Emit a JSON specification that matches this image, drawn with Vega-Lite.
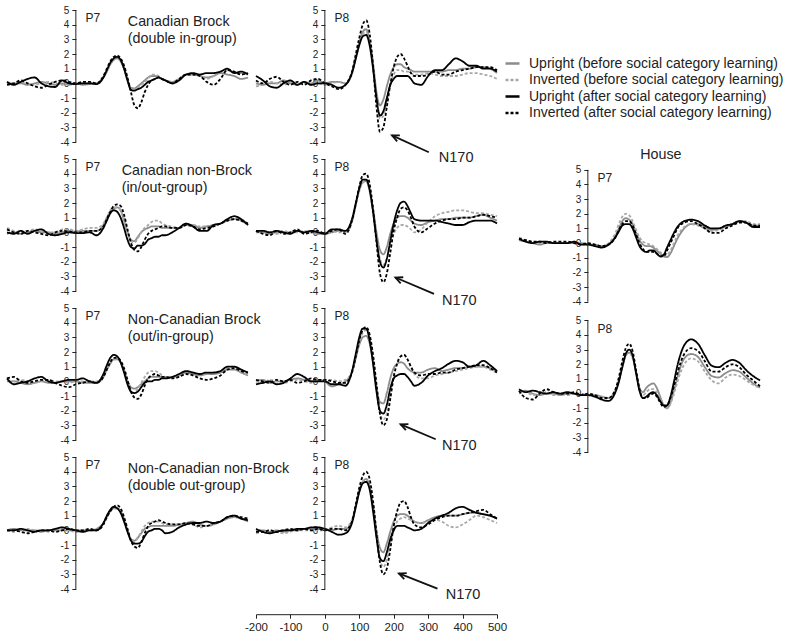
{
"$schema":"https://vega.github.io/schema/vega-lite/v6.json",
"background":"white",
"padding":{"left":3,"top":5,"right":5,"bottom":5},
"config":{
 "view":{"stroke":null},
 "font":"Liberation Sans",
 "axis":{"labelFont":"Liberation Sans","labelFontSize":10,"labelColor":"#222","domainColor":"#222","tickColor":"#222","tickSize":4,"labelPadding":3,"grid":false,"labelFlush":false,"labelOverlap":false},
 "legend":{"orient":"none","legendX":497,"legendY":45,"labelFont":"Liberation Sans","labelFontSize":14,"labelColor":"#222","symbolType":"stroke","symbolSize":196,"symbolStrokeWidth":2.5,"rowPadding":0.5,"labelOffset":8,"padding":0,"labelLimit":400},
 "text":{"font":"Liberation Sans","color":"#222"}
},
"datasets":{
"A7":[
{"t":-200,"a":0,"b":0.1,"c":0.1,"d":-0.1},{"t":-180,"a":0,"b":0,"c":-0.1,"d":0},{"t":-160,"a":0,"b":0.1,"c":0.1,"d":0.2},{"t":-140,"a":-0.1,"b":0,"c":0.3,"d":0},{"t":-120,"a":0,"b":-0.1,"c":0.4,"d":-0.2},{"t":-100,"a":0.1,"b":0,"c":0,"d":-0.3},{"t":-80,"a":0,"b":0.1,"c":-0.2,"d":-0.1},{"t":-60,"a":-0.1,"b":0,"c":-0.25,"d":0.1},{"t":-40,"a":0,"b":-0.1,"c":0.2,"d":0.2},{"t":-20,"a":-0.1,"b":0,"c":0,"d":0.1},{"t":0,"a":0,"b":0,"c":-0.05,"d":0},{"t":20,"a":-0.1,"b":0,"c":0,"d":0.1},{"t":40,"a":-0.05,"b":0,"c":0,"d":0.1},{"t":60,"a":0,"b":0,"c":-0.05,"d":0},{"t":80,"a":0.4,"b":0.4,"c":0.4,"d":0.5},{"t":90,"a":0.8,"b":0.8,"c":0.9,"d":1},{"t":100,"a":1.3,"b":1.3,"c":1.4,"d":1.5},{"t":110,"a":1.6,"b":1.6,"c":1.7,"d":1.8},{"t":120,"a":1.7,"b":1.7,"c":1.8,"d":1.9},{"t":130,"a":1.5,"b":1.5,"c":1.6,"d":1.7},{"t":140,"a":1,"b":1,"c":1,"d":1.2},{"t":150,"a":0.2,"b":0.2,"c":0.2,"d":0.4},{"t":160,"a":-0.3,"b":-0.35,"c":-0.45,"d":-0.6},{"t":170,"a":-0.35,"b":-0.4,"c":-0.5,"d":-1.5},{"t":180,"a":-0.2,"b":-0.3,"c":-0.4,"d":-1.7},{"t":190,"a":0,"b":-0.1,"c":-0.3,"d":-1.3},{"t":200,"a":0.2,"b":0.1,"c":-0.1,"d":-0.6},{"t":210,"a":0.4,"b":0.3,"c":0.1,"d":-0.1},{"t":220,"a":0.5,"b":0.6,"c":0.2,"d":0.2},{"t":230,"a":0.5,"b":0.6,"c":0.3,"d":0.3},{"t":240,"a":0.45,"b":0.5,"c":0.4,"d":0.4},{"t":250,"a":0.3,"b":0.3,"c":0.3,"d":0.3},{"t":260,"a":0.2,"b":0.2,"c":0.2,"d":0.2},{"t":280,"a":0.1,"b":0.1,"c":0,"d":0},{"t":300,"a":0.3,"b":0.3,"c":0.2,"d":0.3},{"t":320,"a":0.6,"b":0.6,"c":0.6,"d":0.6},{"t":340,"a":0.6,"b":0.6,"c":0.7,"d":0.6},{"t":360,"a":0.5,"b":0.5,"c":0.6,"d":0.5},{"t":380,"a":0.4,"b":0.3,"c":0.7,"d":0.1},{"t":400,"a":0.5,"b":0.5,"c":0.7,"d":-0.1},{"t":420,"a":0.7,"b":0.8,"c":0.8,"d":0.3},{"t":440,"a":0.6,"b":0.9,"c":1,"d":0.9},{"t":460,"a":0.5,"b":0.7,"c":0.7,"d":0.8},{"t":480,"a":0.3,"b":0.7,"c":0.8,"d":0.6},{"t":500,"a":0.4,"b":0.6,"c":0.6,"d":0.7}],
"A8":[
{"t":-200,"a":0,"b":-0.2,"c":0.5,"d":0.2},{"t":-180,"a":-0.1,"b":-0.1,"c":0.2,"d":0},{"t":-160,"a":0,"b":0.1,"c":-0.2,"d":0.3},{"t":-140,"a":0,"b":0,"c":-0.3,"d":0.45},{"t":-120,"a":0.2,"b":-0.1,"c":0,"d":0.1},{"t":-100,"a":0,"b":0.1,"c":0.2,"d":-0.1},{"t":-80,"a":-0.1,"b":0,"c":-0.1,"d":0.1},{"t":-60,"a":0.1,"b":0,"c":0.1,"d":-0.1},{"t":-40,"a":0,"b":-0.1,"c":-0.1,"d":0.2},{"t":-20,"a":0.2,"b":0,"c":0,"d":0.3},{"t":0,"a":0,"b":-0.1,"c":0,"d":0},{"t":20,"a":0.1,"b":0,"c":-0.1,"d":-0.2},{"t":40,"a":0.1,"b":0.1,"c":-0.3,"d":-0.4},{"t":60,"a":0,"b":0,"c":-0.1,"d":-0.1},{"t":80,"a":0.8,"b":0.7,"c":0.8,"d":0.9},{"t":90,"a":1.8,"b":1.7,"c":1.7,"d":2},{"t":100,"a":2.8,"b":2.8,"c":2.6,"d":3.1},{"t":110,"a":3.5,"b":3.4,"c":3.2,"d":4},{"t":120,"a":3.7,"b":3.5,"c":3.3,"d":4.3},{"t":130,"a":2.9,"b":2.8,"c":2.6,"d":3.4},{"t":140,"a":1.4,"b":1.2,"c":1,"d":1.2},{"t":150,"a":-0.6,"b":-1,"c":-1,"d":-1.6},{"t":160,"a":-1.5,"b":-2.4,"c":-2.2,"d":-3.3},{"t":170,"a":-1.1,"b":-2.2,"c":-1.9,"d":-3},{"t":180,"a":-0.2,"b":-1.2,"c":-1,"d":-1.6},{"t":190,"a":0.6,"b":-0.1,"c":-0.1,"d":-0.1},{"t":200,"a":1.1,"b":0.6,"c":0.3,"d":1.1},{"t":210,"a":1.3,"b":0.9,"c":0.5,"d":1.8},{"t":220,"a":1.3,"b":0.9,"c":0.5,"d":2},{"t":230,"a":1.1,"b":0.8,"c":0.5,"d":1.7},{"t":240,"a":1,"b":0.8,"c":0.5,"d":1.2},{"t":250,"a":0.9,"b":0.7,"c":0.3,"d":0.7},{"t":260,"a":0.8,"b":0.6,"c":0,"d":0.5},{"t":280,"a":0.8,"b":0.6,"c":-0.1,"d":0.5},{"t":300,"a":0.8,"b":0.7,"c":0.5,"d":0.6},{"t":320,"a":0.8,"b":0.6,"c":0.9,"d":0.8},{"t":340,"a":0.8,"b":0.5,"c":0.9,"d":0.6},{"t":360,"a":0.9,"b":0.5,"c":1.3,"d":0.6},{"t":380,"a":0.9,"b":0.5,"c":1.7,"d":0.8},{"t":400,"a":1,"b":0.6,"c":1.5,"d":0.9},{"t":420,"a":1,"b":0.7,"c":1.2,"d":1},{"t":440,"a":1.1,"b":0.7,"c":1.2,"d":1.1},{"t":460,"a":1.1,"b":0.6,"c":1,"d":1.1},{"t":480,"a":1,"b":0.5,"c":1,"d":1.1},{"t":500,"a":0.7,"b":0.3,"c":0.8,"d":0.9}],
"B7":[
{"t":-200,"a":-0.1,"b":0.3,"c":0,"d":0.2},{"t":-180,"a":0,"b":0.1,"c":-0.1,"d":0},{"t":-160,"a":-0.1,"b":0,"c":0.1,"d":-0.1},{"t":-140,"a":0,"b":0.1,"c":-0.1,"d":0.1},{"t":-120,"a":0.1,"b":0.2,"c":0.1,"d":0},{"t":-100,"a":0,"b":0.1,"c":0.2,"d":-0.1},{"t":-80,"a":0,"b":0,"c":-0.1,"d":-0.2},{"t":-60,"a":-0.1,"b":0,"c":-0.2,"d":0},{"t":-40,"a":0,"b":0.2,"c":-0.1,"d":0.1},{"t":-20,"a":0.1,"b":0.2,"c":0,"d":0.05},{"t":0,"a":0.05,"b":0.1,"c":-0.05,"d":0},{"t":20,"a":0.1,"b":0.2,"c":-0.05,"d":0},{"t":40,"a":0.1,"b":0.3,"c":0,"d":0.1},{"t":60,"a":0.1,"b":0.3,"c":-0.2,"d":0.1},{"t":80,"a":0.5,"b":0.6,"c":0.3,"d":0.4},{"t":90,"a":1,"b":1,"c":0.8,"d":0.9},{"t":100,"a":1.4,"b":1.5,"c":1.3,"d":1.4},{"t":110,"a":1.6,"b":1.7,"c":1.5,"d":1.8},{"t":120,"a":1.7,"b":1.7,"c":1.4,"d":1.9},{"t":130,"a":1.5,"b":1.5,"c":1,"d":1.8},{"t":140,"a":0.8,"b":0.9,"c":0.3,"d":1.2},{"t":150,"a":0,"b":0,"c":-0.5,"d":0.2},{"t":160,"a":-0.5,"b":-0.6,"c":-1,"d":-0.7},{"t":170,"a":-0.6,"b":-0.7,"c":-1.1,"d":-1.2},{"t":180,"a":-0.3,"b":-0.4,"c":-0.9,"d":-1.3},{"t":190,"a":0,"b":0,"c":-0.9,"d":-1},{"t":200,"a":0.2,"b":0.3,"c":-0.8,"d":-0.5},{"t":210,"a":0.3,"b":0.5,"c":-0.5,"d":-0.1},{"t":220,"a":0.4,"b":0.7,"c":-0.4,"d":0.1},{"t":230,"a":0.4,"b":0.8,"c":-0.3,"d":0.2},{"t":240,"a":0.4,"b":0.8,"c":-0.3,"d":0.3},{"t":250,"a":0.3,"b":0.6,"c":-0.2,"d":0.4},{"t":260,"a":0.3,"b":0.5,"c":-0.2,"d":0.4},{"t":280,"a":0.3,"b":0.4,"c":0,"d":0.3},{"t":300,"a":0.3,"b":0.3,"c":0.3,"d":0.3},{"t":320,"a":0.5,"b":0.5,"c":0.6,"d":0.5},{"t":340,"a":0.5,"b":0.5,"c":0.4,"d":0.4},{"t":360,"a":0.3,"b":0.4,"c":0.1,"d":0.2},{"t":380,"a":0.4,"b":0.4,"c":0.1,"d":0.3},{"t":400,"a":0.5,"b":0.5,"c":0.5,"d":0.4},{"t":420,"a":0.6,"b":0.6,"c":0.6,"d":0.6},{"t":440,"a":0.8,"b":0.8,"c":0.9,"d":0.8},{"t":460,"a":0.9,"b":0.9,"c":1.1,"d":0.9},{"t":480,"a":0.8,"b":0.8,"c":0.9,"d":0.8},{"t":500,"a":0.5,"b":0.6,"c":0.5,"d":0.6}],
"B8":[
{"t":-200,"a":0,"b":0,"c":0.1,"d":0.1},{"t":-180,"a":0,"b":0.1,"c":0.1,"d":-0.1},{"t":-160,"a":-0.1,"b":0,"c":0,"d":-0.2},{"t":-140,"a":0,"b":-0.1,"c":0.1,"d":0.1},{"t":-120,"a":0,"b":0.1,"c":0,"d":-0.1},{"t":-100,"a":0,"b":0,"c":-0.1,"d":0},{"t":-80,"a":0.1,"b":0,"c":0.1,"d":0.2},{"t":-60,"a":0,"b":0.1,"c":0,"d":-0.1},{"t":-40,"a":0,"b":0,"c":0.1,"d":0},{"t":-20,"a":-0.1,"b":0,"c":0,"d":0.1},{"t":0,"a":-0.1,"b":-0.1,"c":-0.1,"d":-0.1},{"t":20,"a":0,"b":0.1,"c":0.2,"d":0.1},{"t":40,"a":0.1,"b":0,"c":0.2,"d":0.2},{"t":60,"a":0.1,"b":0,"c":0.1,"d":-0.1},{"t":80,"a":0.9,"b":0.8,"c":1,"d":0.9},{"t":90,"a":1.9,"b":1.8,"c":2,"d":2},{"t":100,"a":2.9,"b":2.8,"c":3,"d":3.1},{"t":110,"a":3.4,"b":3.4,"c":3.6,"d":3.9},{"t":120,"a":3.5,"b":3.5,"c":3.6,"d":4},{"t":130,"a":2.9,"b":2.8,"c":2.9,"d":3.3},{"t":140,"a":1.6,"b":1.3,"c":1.4,"d":1.6},{"t":150,"a":0,"b":-0.4,"c":-0.5,"d":-0.7},{"t":160,"a":-1.2,"b":-1.8,"c":-2,"d":-2.8},{"t":170,"a":-1.5,"b":-2.2,"c":-2.4,"d":-3.4},{"t":180,"a":-1,"b":-1.8,"c":-1.8,"d":-2.8},{"t":190,"a":-0.1,"b":-0.9,"c":-0.6,"d":-1.4},{"t":200,"a":0.6,"b":-0.1,"c":0.6,"d":0.1},{"t":210,"a":1,"b":0.3,"c":1.5,"d":1},{"t":220,"a":1.1,"b":0.5,"c":2,"d":1.6},{"t":230,"a":1.1,"b":0.5,"c":2.1,"d":1.7},{"t":240,"a":1,"b":0.4,"c":1.8,"d":1.5},{"t":250,"a":0.8,"b":0.2,"c":1.3,"d":1},{"t":260,"a":0.6,"b":0,"c":0.9,"d":0.4},{"t":280,"a":0.5,"b":0.2,"c":0.8,"d":0},{"t":300,"a":0.7,"b":0.7,"c":0.8,"d":0.3},{"t":320,"a":0.8,"b":1.1,"c":0.8,"d":0.6},{"t":340,"a":0.9,"b":1.3,"c":0.7,"d":0.8},{"t":360,"a":0.9,"b":1.4,"c":0.6,"d":0.9},{"t":380,"a":1,"b":1.5,"c":0.5,"d":0.9},{"t":400,"a":1,"b":1.5,"c":0.5,"d":1},{"t":420,"a":1,"b":1.4,"c":0.7,"d":1},{"t":440,"a":1.1,"b":1.3,"c":0.8,"d":1.1},{"t":460,"a":1.2,"b":1.3,"c":0.8,"d":1.2},{"t":480,"a":1,"b":1.2,"c":0.8,"d":1.1},{"t":500,"a":0.8,"b":1.1,"c":0.6,"d":1}],
"C7":[
{"t":-200,"a":0,"b":0.1,"c":0.2,"d":0.2},{"t":-180,"a":0,"b":0,"c":-0.2,"d":0.3},{"t":-160,"a":-0.1,"b":0.1,"c":-0.1,"d":0},{"t":-140,"a":-0.2,"b":0,"c":0,"d":-0.1},{"t":-120,"a":-0.1,"b":-0.1,"c":0.2,"d":0},{"t":-100,"a":0,"b":0,"c":0.3,"d":0.1},{"t":-80,"a":-0.1,"b":0.1,"c":0,"d":0.1},{"t":-60,"a":-0.1,"b":0,"c":-0.1,"d":-0.1},{"t":-40,"a":0,"b":0,"c":0,"d":-0.3},{"t":-20,"a":0,"b":-0.1,"c":0.1,"d":-0.4},{"t":0,"a":0,"b":0,"c":0.1,"d":-0.2},{"t":20,"a":-0.1,"b":0,"c":0.2,"d":-0.1},{"t":40,"a":-0.1,"b":0,"c":0,"d":0},{"t":60,"a":-0.1,"b":0,"c":-0.1,"d":-0.1},{"t":80,"a":0.3,"b":0.3,"c":0.5,"d":0.3},{"t":90,"a":0.8,"b":0.8,"c":1.1,"d":0.8},{"t":100,"a":1.2,"b":1.3,"c":1.6,"d":1.3},{"t":110,"a":1.5,"b":1.5,"c":1.8,"d":1.6},{"t":120,"a":1.5,"b":1.5,"c":1.7,"d":1.6},{"t":130,"a":1.3,"b":1.3,"c":1.3,"d":1.4},{"t":140,"a":0.7,"b":0.8,"c":0.6,"d":0.9},{"t":150,"a":0,"b":0,"c":-0.2,"d":0.1},{"t":160,"a":-0.4,"b":-0.6,"c":-0.7,"d":-0.7},{"t":170,"a":-0.5,"b":-0.8,"c":-0.8,"d":-1.1},{"t":180,"a":-0.4,"b":-0.5,"c":-0.7,"d":-1.2},{"t":190,"a":-0.2,"b":-0.1,"c":-0.4,"d":-0.9},{"t":200,"a":0,"b":0.3,"c":-0.1,"d":-0.3},{"t":210,"a":0.2,"b":0.6,"c":0,"d":0.2},{"t":220,"a":0.3,"b":0.7,"c":0,"d":0.4},{"t":230,"a":0.3,"b":0.7,"c":0.1,"d":0.5},{"t":240,"a":0.3,"b":0.6,"c":0.1,"d":0.4},{"t":250,"a":0.3,"b":0.4,"c":0.2,"d":0.3},{"t":260,"a":0.3,"b":0.3,"c":0.2,"d":0.3},{"t":280,"a":0.3,"b":0.3,"c":0.3,"d":0.2},{"t":300,"a":0.4,"b":0.4,"c":0.5,"d":0.3},{"t":320,"a":0.6,"b":0.7,"c":0.7,"d":0.5},{"t":340,"a":0.5,"b":0.6,"c":0.6,"d":0.4},{"t":360,"a":0.4,"b":0.5,"c":0.5,"d":0.2},{"t":380,"a":0.5,"b":0.5,"c":0.6,"d":0.1},{"t":400,"a":0.5,"b":0.6,"c":0.6,"d":0.2},{"t":420,"a":0.6,"b":0.7,"c":0.7,"d":0.4},{"t":440,"a":0.8,"b":0.9,"c":1,"d":0.8},{"t":460,"a":0.8,"b":0.9,"c":1,"d":0.9},{"t":480,"a":0.6,"b":0.6,"c":0.8,"d":0.7},{"t":500,"a":0.4,"b":0.5,"c":0.6,"d":0.6}],
"C8":[
{"t":-200,"a":0,"b":0,"c":-0.2,"d":0.1},{"t":-180,"a":0.1,"b":-0.1,"c":-0.1,"d":0},{"t":-160,"a":-0.1,"b":0.1,"c":0,"d":-0.1},{"t":-140,"a":0,"b":0,"c":-0.2,"d":0.1},{"t":-120,"a":0,"b":-0.1,"c":-0.1,"d":0},{"t":-100,"a":0.1,"b":0,"c":0.2,"d":0.1},{"t":-80,"a":0.2,"b":0.1,"c":0.5,"d":-0.1},{"t":-60,"a":0.1,"b":0,"c":0.3,"d":0},{"t":-40,"a":0,"b":-0.1,"c":0,"d":0.2},{"t":-20,"a":0.1,"b":0,"c":0,"d":0.1},{"t":0,"a":0,"b":0.1,"c":0,"d":0.1},{"t":20,"a":-0.35,"b":0.1,"c":-0.2,"d":0},{"t":40,"a":-0.2,"b":0,"c":-0.2,"d":-0.1},{"t":60,"a":0,"b":0.1,"c":-0.3,"d":-0.1},{"t":80,"a":0.7,"b":0.7,"c":0.8,"d":0.7},{"t":90,"a":1.6,"b":1.7,"c":1.9,"d":1.7},{"t":100,"a":2.5,"b":2.7,"c":3,"d":2.8},{"t":110,"a":3,"b":3.3,"c":3.6,"d":3.5},{"t":120,"a":3.1,"b":3.5,"c":3.6,"d":3.7},{"t":130,"a":2.6,"b":3,"c":2.8,"d":3.2},{"t":140,"a":1.3,"b":1.7,"c":1.2,"d":1.8},{"t":150,"a":-0.4,"b":-0.4,"c":-0.7,"d":-0.2},{"t":160,"a":-1.4,"b":-2.2,"c":-2,"d":-2.2},{"t":170,"a":-1.5,"b":-2.6,"c":-2.2,"d":-3},{"t":180,"a":-0.8,"b":-2.2,"c":-1.6,"d":-2.6},{"t":190,"a":0.2,"b":-1,"c":-0.5,"d":-1.2},{"t":200,"a":0.9,"b":0.4,"c":0.2,"d":0.3},{"t":210,"a":1.2,"b":1.3,"c":0.4,"d":1.2},{"t":220,"a":1.3,"b":1.7,"c":0.5,"d":1.7},{"t":230,"a":1.2,"b":1.8,"c":0.5,"d":1.8},{"t":240,"a":0.9,"b":1.5,"c":0.3,"d":1.5},{"t":250,"a":0.7,"b":1,"c":0,"d":1},{"t":260,"a":0.6,"b":0.5,"c":-0.3,"d":0.6},{"t":280,"a":0.6,"b":0.2,"c":-0.1,"d":0.4},{"t":300,"a":0.8,"b":0.2,"c":0.4,"d":0.5},{"t":320,"a":0.9,"b":0.4,"c":0.7,"d":0.5},{"t":340,"a":0.7,"b":0.5,"c":0.9,"d":0.6},{"t":360,"a":0.8,"b":0.6,"c":1.2,"d":0.6},{"t":380,"a":0.9,"b":0.7,"c":1.4,"d":0.8},{"t":400,"a":0.9,"b":0.8,"c":1.3,"d":0.9},{"t":420,"a":1,"b":0.9,"c":1,"d":1},{"t":440,"a":1,"b":1,"c":1.1,"d":1.1},{"t":460,"a":1,"b":1,"c":1.4,"d":1.1},{"t":480,"a":0.9,"b":0.8,"c":1.1,"d":0.9},{"t":500,"a":0.7,"b":0.6,"c":0.7,"d":0.6}],
"D7":[
{"t":-200,"a":0,"b":0,"c":0,"d":0},{"t":-180,"a":0.1,"b":-0.1,"c":0,"d":0},{"t":-160,"a":0,"b":0,"c":0.1,"d":-0.1},{"t":-140,"a":0,"b":0.1,"c":0,"d":-0.2},{"t":-120,"a":0,"b":0,"c":-0.1,"d":-0.1},{"t":-100,"a":-0.1,"b":0,"c":0,"d":0},{"t":-80,"a":0,"b":-0.1,"c":0,"d":0},{"t":-60,"a":0,"b":0,"c":0.1,"d":-0.1},{"t":-40,"a":0,"b":0.1,"c":0.2,"d":0},{"t":-20,"a":0,"b":0,"c":0.1,"d":0.1},{"t":0,"a":0,"b":-0.1,"c":0,"d":0},{"t":20,"a":0,"b":-0.1,"c":-0.1,"d":0},{"t":40,"a":0,"b":0,"c":0,"d":0.1},{"t":60,"a":0.1,"b":0,"c":0,"d":0},{"t":80,"a":0.5,"b":0.4,"c":0.5,"d":0.4},{"t":90,"a":0.9,"b":0.9,"c":1,"d":0.9},{"t":100,"a":1.3,"b":1.3,"c":1.4,"d":1.3},{"t":110,"a":1.5,"b":1.5,"c":1.6,"d":1.6},{"t":120,"a":1.5,"b":1.5,"c":1.5,"d":1.7},{"t":130,"a":1.3,"b":1.3,"c":1.2,"d":1.5},{"t":140,"a":0.7,"b":0.8,"c":0.6,"d":0.9},{"t":150,"a":0,"b":0,"c":-0.1,"d":0.1},{"t":160,"a":-0.6,"b":-0.6,"c":-0.7,"d":-0.7},{"t":170,"a":-0.7,"b":-0.8,"c":-0.9,"d":-1.1},{"t":180,"a":-0.5,"b":-0.5,"c":-0.9,"d":-1.2},{"t":190,"a":-0.2,"b":-0.1,"c":-0.8,"d":-0.8},{"t":200,"a":0.1,"b":0.3,"c":-0.4,"d":-0.2},{"t":210,"a":0.2,"b":0.5,"c":-0.1,"d":0.3},{"t":220,"a":0.3,"b":0.6,"c":0,"d":0.5},{"t":230,"a":0.3,"b":0.6,"c":0.1,"d":0.6},{"t":240,"a":0.3,"b":0.6,"c":0.1,"d":0.7},{"t":250,"a":0.3,"b":0.5,"c":0,"d":0.6},{"t":260,"a":0.3,"b":0.4,"c":-0.2,"d":0.5},{"t":280,"a":0.3,"b":0.4,"c":-0.1,"d":0.4},{"t":300,"a":0.4,"b":0.4,"c":0.2,"d":0.4},{"t":320,"a":0.5,"b":0.5,"c":0.4,"d":0.5},{"t":340,"a":0.6,"b":0.4,"c":0.5,"d":0.4},{"t":360,"a":0.4,"b":0.2,"c":0.5,"d":0.3},{"t":380,"a":0.3,"b":0.3,"c":0.6,"d":0.3},{"t":400,"a":0.4,"b":0.5,"c":0.5,"d":0.5},{"t":420,"a":0.6,"b":0.6,"c":0.6,"d":0.6},{"t":440,"a":0.8,"b":0.8,"c":0.9,"d":0.9},{"t":460,"a":0.9,"b":0.9,"c":1,"d":1},{"t":480,"a":0.8,"b":0.8,"c":0.8,"d":0.9},{"t":500,"a":0.6,"b":0.7,"c":0.7,"d":0.8}],
"D8":[
{"t":-200,"a":0,"b":-0.2,"c":0.1,"d":-0.1},{"t":-180,"a":0,"b":-0.1,"c":-0.1,"d":-0.1},{"t":-160,"a":-0.1,"b":0,"c":-0.2,"d":0},{"t":-140,"a":0,"b":-0.1,"c":-0.1,"d":-0.1},{"t":-120,"a":-0.1,"b":-0.2,"c":0,"d":0},{"t":-100,"a":0,"b":-0.1,"c":0,"d":0.1},{"t":-80,"a":0,"b":0,"c":0.1,"d":0},{"t":-60,"a":0.1,"b":0,"c":0.1,"d":0.1},{"t":-40,"a":0.1,"b":0,"c":0.2,"d":0},{"t":-20,"a":0.1,"b":0,"c":0.2,"d":0.1},{"t":0,"a":0.1,"b":0,"c":0.1,"d":0},{"t":20,"a":0,"b":0.2,"c":-0.1,"d":0.1},{"t":40,"a":0.1,"b":0.3,"c":-0.3,"d":0.1},{"t":60,"a":0.1,"b":0.2,"c":-0.2,"d":0},{"t":80,"a":0.7,"b":0.8,"c":0.6,"d":0.7},{"t":90,"a":1.7,"b":1.7,"c":1.6,"d":1.8},{"t":100,"a":2.7,"b":2.7,"c":2.6,"d":2.9},{"t":110,"a":3.3,"b":3.3,"c":3.2,"d":3.7},{"t":120,"a":3.5,"b":3.4,"c":3.3,"d":4},{"t":130,"a":3,"b":2.9,"c":2.8,"d":3.5},{"t":140,"a":1.7,"b":1.6,"c":1.3,"d":2},{"t":150,"a":0,"b":-0.4,"c":-0.5,"d":-0.2},{"t":160,"a":-1.2,"b":-2,"c":-1.9,"d":-2.2},{"t":170,"a":-1.5,"b":-2.5,"c":-2.1,"d":-3},{"t":180,"a":-0.9,"b":-2,"c":-1.5,"d":-2.6},{"t":190,"a":-0.1,"b":-0.9,"c":-0.6,"d":-1.3},{"t":200,"a":0.6,"b":0,"c":0,"d":0.3},{"t":210,"a":1,"b":0.6,"c":0.3,"d":1.3},{"t":220,"a":1.1,"b":0.8,"c":0.3,"d":1.9},{"t":230,"a":1.1,"b":0.9,"c":0.3,"d":2},{"t":240,"a":1,"b":0.8,"c":0.2,"d":1.6},{"t":250,"a":0.8,"b":0.7,"c":0.1,"d":0.9},{"t":260,"a":0.6,"b":0.6,"c":0,"d":0.4},{"t":280,"a":0.5,"b":0.5,"c":0.1,"d":0.2},{"t":300,"a":0.7,"b":0.6,"c":0.5,"d":0.4},{"t":320,"a":0.9,"b":0.7,"c":0.8,"d":0.7},{"t":340,"a":1,"b":0.6,"c":1,"d":0.9},{"t":360,"a":1,"b":0.3,"c":1.2,"d":1},{"t":380,"a":1,"b":0.2,"c":1.5,"d":1},{"t":400,"a":1.1,"b":0.4,"c":1.6,"d":1.1},{"t":420,"a":1.2,"b":0.7,"c":1.4,"d":1.2},{"t":440,"a":1.2,"b":1,"c":1.2,"d":1.3},{"t":460,"a":1.1,"b":0.9,"c":1.1,"d":1.4},{"t":480,"a":1,"b":0.7,"c":1,"d":1.1},{"t":500,"a":0.8,"b":0.5,"c":0.8,"d":0.8}],
"H7":[
{"t":-200,"a":0.2,"b":0.4,"c":0.3,"d":0.3},{"t":-180,"a":0.1,"b":0.2,"c":0.1,"d":0.2},{"t":-160,"a":0,"b":0.1,"c":0,"d":0.1},{"t":-140,"a":-0.1,"b":0,"c":0.1,"d":0.1},{"t":-120,"a":0,"b":0.1,"c":0.1,"d":0},{"t":-100,"a":0,"b":0,"c":0,"d":0.1},{"t":-80,"a":0,"b":0,"c":0,"d":0.1},{"t":-60,"a":0,"b":0,"c":0,"d":0.1},{"t":-40,"a":0,"b":0.1,"c":0.1,"d":0},{"t":-20,"a":0,"b":0,"c":-0.1,"d":-0.1},{"t":0,"a":-0.1,"b":0,"c":-0.1,"d":0},{"t":20,"a":-0.1,"b":-0.1,"c":-0.2,"d":-0.1},{"t":40,"a":-0.2,"b":-0.2,"c":-0.3,"d":-0.2},{"t":60,"a":-0.1,"b":0,"c":-0.1,"d":-0.1},{"t":80,"a":0.5,"b":0.7,"c":0.4,"d":0.4},{"t":90,"a":1,"b":1.3,"c":0.8,"d":0.9},{"t":100,"a":1.5,"b":1.8,"c":1.2,"d":1.3},{"t":110,"a":1.7,"b":2,"c":1.3,"d":1.5},{"t":120,"a":1.6,"b":1.9,"c":1.3,"d":1.5},{"t":130,"a":1.3,"b":1.5,"c":1,"d":1.2},{"t":140,"a":0.7,"b":0.9,"c":0.4,"d":0.6},{"t":150,"a":0.2,"b":0.4,"c":-0.2,"d":0},{"t":160,"a":-0.1,"b":0.1,"c":-0.5,"d":-0.4},{"t":170,"a":-0.2,"b":0,"c":-0.6,"d":-0.6},{"t":180,"a":-0.2,"b":-0.1,"c":-0.5,"d":-0.6},{"t":190,"a":-0.3,"b":-0.2,"c":-0.5,"d":-0.6},{"t":200,"a":-0.5,"b":-0.4,"c":-0.7,"d":-0.7},{"t":210,"a":-0.7,"b":-0.6,"c":-0.9,"d":-0.9},{"t":220,"a":-0.9,"b":-0.8,"c":-0.8,"d":-0.9},{"t":230,"a":-0.95,"b":-0.8,"c":-0.3,"d":-0.5},{"t":240,"a":-0.7,"b":-0.5,"c":0.2,"d":0},{"t":250,"a":-0.2,"b":0,"c":0.7,"d":0.5},{"t":260,"a":0.3,"b":0.5,"c":1.1,"d":1},{"t":280,"a":1,"b":1.1,"c":1.5,"d":1.4},{"t":300,"a":1.3,"b":1.3,"c":1.6,"d":1.5},{"t":320,"a":1.3,"b":1.2,"c":1.5,"d":1.3},{"t":340,"a":1.1,"b":1,"c":1.2,"d":1},{"t":360,"a":0.9,"b":0.8,"c":1,"d":0.7},{"t":380,"a":1,"b":0.9,"c":1,"d":0.7},{"t":400,"a":1.1,"b":1.1,"c":1.2,"d":1},{"t":420,"a":1.3,"b":1.3,"c":1.3,"d":1.2},{"t":440,"a":1.5,"b":1.5,"c":1.5,"d":1.4},{"t":460,"a":1.4,"b":1.5,"c":1.4,"d":1.4},{"t":480,"a":1.2,"b":1.3,"c":1.1,"d":1.2},{"t":500,"a":1.2,"b":1.3,"c":1.1,"d":1.2}],
"H8":[
{"t":-200,"a":0.1,"b":0,"c":0.3,"d":0.2},{"t":-180,"a":0.2,"b":0.1,"c":0.1,"d":-0.3},{"t":-160,"a":0,"b":-0.1,"c":0.2,"d":-0.4},{"t":-140,"a":-0.1,"b":0,"c":0.1,"d":0},{"t":-120,"a":0,"b":0.1,"c":0,"d":0.3},{"t":-100,"a":0,"b":-0.1,"c":0.1,"d":0.1},{"t":-80,"a":-0.1,"b":0,"c":0,"d":0},{"t":-60,"a":0,"b":-0.1,"c":0.1,"d":0},{"t":-40,"a":0,"b":0,"c":0,"d":0.1},{"t":-20,"a":-0.1,"b":0,"c":-0.1,"d":-0.1},{"t":0,"a":-0.1,"b":-0.1,"c":-0.1,"d":0},{"t":20,"a":-0.1,"b":-0.2,"c":-0.2,"d":-0.1},{"t":40,"a":-0.2,"b":-0.2,"c":-0.4,"d":-0.3},{"t":60,"a":-0.3,"b":-0.3,"c":-0.5,"d":-0.3},{"t":80,"a":0.2,"b":0.2,"c":0.1,"d":0.3},{"t":90,"a":0.9,"b":0.9,"c":0.8,"d":1.1},{"t":100,"a":1.8,"b":1.8,"c":1.8,"d":2.2},{"t":110,"a":2.6,"b":2.6,"c":2.7,"d":3.1},{"t":120,"a":2.8,"b":2.8,"c":3,"d":3.4},{"t":130,"a":2.5,"b":2.4,"c":2.6,"d":2.9},{"t":140,"a":1.5,"b":1.4,"c":1.4,"d":1.6},{"t":150,"a":0.4,"b":0.3,"c":0.2,"d":0.3},{"t":160,"a":0.1,"b":-0.1,"c":-0.3,"d":-0.3},{"t":170,"a":0.4,"b":0.1,"c":-0.2,"d":-0.3},{"t":180,"a":0.6,"b":0.3,"c":0,"d":-0.1},{"t":190,"a":0.7,"b":0.3,"c":0.1,"d":0},{"t":200,"a":0.4,"b":0.1,"c":-0.1,"d":-0.2},{"t":210,"a":-0.2,"b":-0.3,"c":-0.5,"d":-0.6},{"t":220,"a":-0.8,"b":-0.8,"c":-0.8,"d":-0.9},{"t":230,"a":-1,"b":-1,"c":-0.8,"d":-0.8},{"t":240,"a":-0.6,"b":-0.7,"c":-0.2,"d":-0.3},{"t":250,"a":0.2,"b":0,"c":0.8,"d":0.5},{"t":260,"a":1.1,"b":0.8,"c":1.9,"d":1.4},{"t":280,"a":2.4,"b":2,"c":3.3,"d":2.7},{"t":300,"a":2.7,"b":2.4,"c":3.7,"d":3.1},{"t":320,"a":2.5,"b":2.2,"c":3.4,"d":2.9},{"t":340,"a":1.8,"b":1.5,"c":2.6,"d":2.2},{"t":360,"a":1.2,"b":0.9,"c":1.9,"d":1.5},{"t":380,"a":1.1,"b":0.7,"c":1.8,"d":1.5},{"t":400,"a":1.4,"b":1.1,"c":2.1,"d":1.8},{"t":420,"a":1.6,"b":1.3,"c":2.3,"d":2},{"t":440,"a":1.5,"b":1.2,"c":2.1,"d":1.8},{"t":460,"a":1.1,"b":0.9,"c":1.6,"d":1.3},{"t":480,"a":0.7,"b":0.6,"c":1.2,"d":0.9},{"t":500,"a":0.4,"b":0.4,"c":0.9,"d":0.5}]
},
"columns":3,
"spacing":{"row":0,"column":8},
"bounds":"flush",
"align":"each",
"concat":[
 {"width":241,"height":148.5,"resolve":{"axis":{"x":"independent","y":"independent"}},"layer":[
  {"data":{"name":"A7"},"transform":[{"fold":["a","b","c","d"],"as":["s","v"]}],"mark":{"type":"line","strokeWidth":1.8,"interpolate":"monotone"},
   "encoding":{"x":{"field":"t","type":"quantitative","scale":{"domain":[-200,500],"nice":false,"zero":false},"axis":null},
    "y":{"field":"v","type":"quantitative","scale":{"domain":[-5.125,5],"nice":false,"zero":false},"axis":{"orient":"left","offset":-68.86,"values":[-4,-3,-2,-1,0,1,2,3,4,5],"domain":false,"title":null,"labelExpr":"''+datum.value"}},
    "color":{"field":"s","type":"nominal","scale":{"domain":["a","b","c","d"],"range":["#8c8c8c","#a8a8a8","#000000","#000000"]},"legend":{"title":null,"labelExpr":"{'a':'Upright (before social category learning)','b':'Inverted (before social category learning)','c':'Upright (after social category learning)','d':'Inverted (after social category learning)'}[datum.label]"}},
    "strokeDash":{"field":"s","type":"nominal","scale":{"domain":["a","b","c","d"],"range":[[1,0],[3,2],[1,0],[3,2]]},"legend":{"title":null,"labelExpr":"{'a':'Upright (before social category learning)','b':'Inverted (before social category learning)','c':'Upright (after social category learning)','d':'Inverted (after social category learning)'}[datum.label]"}}}},
  {"data":{"values":[{}]},"mark":{"type":"rule","color":"#222","strokeWidth":1},"encoding":{"x":{"datum":0,"axis":null},"y":{"datum":-4,"axis":null},"y2":{"datum":5}}},
  {"data":{"values":[{}]},"mark":{"type":"text","align":"left","baseline":"middle","fontSize":12,"text":"P7"},"encoding":{"x":{"datum":28,"axis":null},"y":{"datum":4.43,"axis":null}}},
  {"data":{"values":[{}]},"mark":{"type":"text","align":"left","baseline":"top","fontSize":14.3,"lineHeight":17,"text":["Canadian Brock","(double in-group)"]},"encoding":{"x":{"datum":151,"axis":null},"y":{"datum":4.69,"axis":null}}}
 ]},
 {"width":241,"height":148.5,"resolve":{"axis":{"x":"independent","y":"independent"}},"layer":[
  {"data":{"name":"A8"},"transform":[{"fold":["a","b","c","d"],"as":["s","v"]}],"mark":{"type":"line","strokeWidth":1.8,"interpolate":"monotone"},
   "encoding":{"x":{"field":"t","type":"quantitative","scale":{"domain":[-200,500],"nice":false,"zero":false},"axis":null},
    "y":{"field":"v","type":"quantitative","scale":{"domain":[-5.125,5],"nice":false,"zero":false},"axis":{"orient":"left","offset":-68.86,"values":[-4,-3,-2,-1,0,1,2,3,4,5],"domain":false,"title":null,"labelExpr":"''+datum.value"}},
    "color":{"field":"s","type":"nominal","scale":{"domain":["a","b","c","d"],"range":["#8c8c8c","#a8a8a8","#000000","#000000"]},"legend":{"title":null,"labelExpr":"{'a':'Upright (before social category learning)','b':'Inverted (before social category learning)','c':'Upright (after social category learning)','d':'Inverted (after social category learning)'}[datum.label]"}},
    "strokeDash":{"field":"s","type":"nominal","scale":{"domain":["a","b","c","d"],"range":[[1,0],[3,2],[1,0],[3,2]]},"legend":{"title":null,"labelExpr":"{'a':'Upright (before social category learning)','b':'Inverted (before social category learning)','c':'Upright (after social category learning)','d':'Inverted (after social category learning)'}[datum.label]"}}}},
  {"data":{"values":[{}]},"mark":{"type":"rule","color":"#222","strokeWidth":1},"encoding":{"x":{"datum":0,"axis":null},"y":{"datum":-4,"axis":null},"y2":{"datum":5}}},
  {"data":{"values":[{}]},"mark":{"type":"text","align":"left","baseline":"middle","fontSize":12,"text":"P8"},"encoding":{"x":{"datum":28,"axis":null},"y":{"datum":4.43,"axis":null}}},
  {"data":{"values":[{}]},"mark":{"type":"rule","strokeWidth":1.8,"color":"#111"},"encoding":{"x":{"datum":302,"axis":null},"y":{"datum":-4.7,"axis":null},"x2":{"datum":195},"y2":{"datum":-3.55}}},
  {"data":{"values":[{}]},"mark":{"type":"point","shape":"M 1.3 -0.6 L 0 0 L 1.3 0.6","filled":false,"stroke":"#111","strokeWidth":1.8,"size":120,"angle":24,"opacity":1},"encoding":{"x":{"datum":195,"axis":null},"y":{"datum":-3.55,"axis":null}}},
  {"data":{"values":[{}]},"mark":{"type":"text","align":"left","baseline":"middle","fontSize":14.5,"text":"N170"},"encoding":{"x":{"datum":331,"axis":null},"y":{"datum":-5.06,"axis":null}}}
 ]},
 {"width":255,"height":148.5,"data":{"values":[{}]},"mark":{"type":"text","text":" "}},
 {"width":241,"height":148.5,"resolve":{"axis":{"x":"independent","y":"independent"}},"layer":[
  {"data":{"name":"B7"},"transform":[{"fold":["a","b","c","d"],"as":["s","v"]}],"mark":{"type":"line","strokeWidth":1.8,"interpolate":"monotone"},
   "encoding":{"x":{"field":"t","type":"quantitative","scale":{"domain":[-200,500],"nice":false,"zero":false},"axis":null},
    "y":{"field":"v","type":"quantitative","scale":{"domain":[-5.125,5],"nice":false,"zero":false},"axis":{"orient":"left","offset":-68.86,"values":[-4,-3,-2,-1,0,1,2,3,4,5],"domain":false,"title":null,"labelExpr":"''+datum.value"}},
    "color":{"field":"s","type":"nominal","scale":{"domain":["a","b","c","d"],"range":["#8c8c8c","#a8a8a8","#000000","#000000"]},"legend":{"title":null,"labelExpr":"{'a':'Upright (before social category learning)','b':'Inverted (before social category learning)','c':'Upright (after social category learning)','d':'Inverted (after social category learning)'}[datum.label]"}},
    "strokeDash":{"field":"s","type":"nominal","scale":{"domain":["a","b","c","d"],"range":[[1,0],[3,2],[1,0],[3,2]]},"legend":{"title":null,"labelExpr":"{'a':'Upright (before social category learning)','b':'Inverted (before social category learning)','c':'Upright (after social category learning)','d':'Inverted (after social category learning)'}[datum.label]"}}}},
  {"data":{"values":[{}]},"mark":{"type":"rule","color":"#222","strokeWidth":1},"encoding":{"x":{"datum":0,"axis":null},"y":{"datum":-4,"axis":null},"y2":{"datum":5}}},
  {"data":{"values":[{}]},"mark":{"type":"text","align":"left","baseline":"middle","fontSize":12,"text":"P7"},"encoding":{"x":{"datum":28,"axis":null},"y":{"datum":4.43,"axis":null}}},
  {"data":{"values":[{}]},"mark":{"type":"text","align":"left","baseline":"top","fontSize":14.3,"lineHeight":17,"text":["Canadian non-Brock","(in/out-group)"]},"encoding":{"x":{"datum":133,"axis":null},"y":{"datum":4.69,"axis":null}}}
 ]},
 {"width":241,"height":148.5,"resolve":{"axis":{"x":"independent","y":"independent"}},"layer":[
  {"data":{"name":"B8"},"transform":[{"fold":["a","b","c","d"],"as":["s","v"]}],"mark":{"type":"line","strokeWidth":1.8,"interpolate":"monotone"},
   "encoding":{"x":{"field":"t","type":"quantitative","scale":{"domain":[-200,500],"nice":false,"zero":false},"axis":null},
    "y":{"field":"v","type":"quantitative","scale":{"domain":[-5.125,5],"nice":false,"zero":false},"axis":{"orient":"left","offset":-68.86,"values":[-4,-3,-2,-1,0,1,2,3,4,5],"domain":false,"title":null,"labelExpr":"''+datum.value"}},
    "color":{"field":"s","type":"nominal","scale":{"domain":["a","b","c","d"],"range":["#8c8c8c","#a8a8a8","#000000","#000000"]},"legend":{"title":null,"labelExpr":"{'a':'Upright (before social category learning)','b':'Inverted (before social category learning)','c':'Upright (after social category learning)','d':'Inverted (after social category learning)'}[datum.label]"}},
    "strokeDash":{"field":"s","type":"nominal","scale":{"domain":["a","b","c","d"],"range":[[1,0],[3,2],[1,0],[3,2]]},"legend":{"title":null,"labelExpr":"{'a':'Upright (before social category learning)','b':'Inverted (before social category learning)','c':'Upright (after social category learning)','d':'Inverted (after social category learning)'}[datum.label]"}}}},
  {"data":{"values":[{}]},"mark":{"type":"rule","color":"#222","strokeWidth":1},"encoding":{"x":{"datum":0,"axis":null},"y":{"datum":-4,"axis":null},"y2":{"datum":5}}},
  {"data":{"values":[{}]},"mark":{"type":"text","align":"left","baseline":"middle","fontSize":12,"text":"P8"},"encoding":{"x":{"datum":28,"axis":null},"y":{"datum":4.43,"axis":null}}},
  {"data":{"values":[{}]},"mark":{"type":"rule","strokeWidth":1.8,"color":"#111"},"encoding":{"x":{"datum":317,"axis":null},"y":{"datum":-4.2,"axis":null},"x2":{"datum":205},"y2":{"datum":-3.08}}},
  {"data":{"values":[{}]},"mark":{"type":"point","shape":"M 1.3 -0.6 L 0 0 L 1.3 0.6","filled":false,"stroke":"#111","strokeWidth":1.8,"size":120,"angle":23,"opacity":1},"encoding":{"x":{"datum":205,"axis":null},"y":{"datum":-3.08,"axis":null}}},
  {"data":{"values":[{}]},"mark":{"type":"text","align":"left","baseline":"middle","fontSize":14.5,"text":"N170"},"encoding":{"x":{"datum":340,"axis":null},"y":{"datum":-4.67,"axis":null}}}
 ]},
 {"width":255,"height":148.5,"resolve":{"axis":{"x":"independent","y":"independent"}},"layer":[
  {"data":{"name":"H7"},"transform":[{"fold":["a","b","c","d"],"as":["s","v"]}],"mark":{"type":"line","strokeWidth":1.8,"interpolate":"monotone"},
   "encoding":{"x":{"field":"t","type":"quantitative","scale":{"domain":[-240.66,500],"nice":false,"zero":false},"axis":null},
    "y":{"field":"v","type":"quantitative","scale":{"domain":[-4.389,5.736],"nice":false,"zero":false},"axis":{"orient":"left","offset":-82.87,"values":[-4,-3,-2,-1,0,1,2,3,4,5],"domain":false,"title":null,"labelExpr":"''+datum.value"}},
    "color":{"field":"s","type":"nominal","scale":{"domain":["a","b","c","d"],"range":["#8c8c8c","#a8a8a8","#000000","#000000"]},"legend":{"title":null,"labelExpr":"{'a':'Upright (before social category learning)','b':'Inverted (before social category learning)','c':'Upright (after social category learning)','d':'Inverted (after social category learning)'}[datum.label]"}},
    "strokeDash":{"field":"s","type":"nominal","scale":{"domain":["a","b","c","d"],"range":[[1,0],[3,2],[1,0],[3,2]]},"legend":{"title":null,"labelExpr":"{'a':'Upright (before social category learning)','b':'Inverted (before social category learning)','c':'Upright (after social category learning)','d':'Inverted (after social category learning)'}[datum.label]"}}}},
  {"data":{"values":[{}]},"mark":{"type":"rule","color":"#222","strokeWidth":1},"encoding":{"x":{"datum":0,"axis":null},"y":{"datum":-4,"axis":null},"y2":{"datum":5}}},
  {"data":{"values":[{}]},"mark":{"type":"text","align":"left","baseline":"middle","fontSize":12,"text":"P7"},"encoding":{"x":{"datum":28,"axis":null},"y":{"datum":4.43,"axis":null}}},
  {"data":{"values":[{}]},"mark":{"type":"text","align":"center","baseline":"middle","fontSize":14.3,"text":"House"},"encoding":{"x":{"datum":212,"axis":null},"y":{"datum":6.04,"axis":null}}}
 ]},
 {"width":241,"height":148.5,"resolve":{"axis":{"x":"independent","y":"independent"}},"layer":[
  {"data":{"name":"C7"},"transform":[{"fold":["a","b","c","d"],"as":["s","v"]}],"mark":{"type":"line","strokeWidth":1.8,"interpolate":"monotone"},
   "encoding":{"x":{"field":"t","type":"quantitative","scale":{"domain":[-200,500],"nice":false,"zero":false},"axis":null},
    "y":{"field":"v","type":"quantitative","scale":{"domain":[-5.125,5],"nice":false,"zero":false},"axis":{"orient":"left","offset":-68.86,"values":[-4,-3,-2,-1,0,1,2,3,4,5],"domain":false,"title":null,"labelExpr":"''+datum.value"}},
    "color":{"field":"s","type":"nominal","scale":{"domain":["a","b","c","d"],"range":["#8c8c8c","#a8a8a8","#000000","#000000"]},"legend":{"title":null,"labelExpr":"{'a':'Upright (before social category learning)','b':'Inverted (before social category learning)','c':'Upright (after social category learning)','d':'Inverted (after social category learning)'}[datum.label]"}},
    "strokeDash":{"field":"s","type":"nominal","scale":{"domain":["a","b","c","d"],"range":[[1,0],[3,2],[1,0],[3,2]]},"legend":{"title":null,"labelExpr":"{'a':'Upright (before social category learning)','b':'Inverted (before social category learning)','c':'Upright (after social category learning)','d':'Inverted (after social category learning)'}[datum.label]"}}}},
  {"data":{"values":[{}]},"mark":{"type":"rule","color":"#222","strokeWidth":1},"encoding":{"x":{"datum":0,"axis":null},"y":{"datum":-4,"axis":null},"y2":{"datum":5}}},
  {"data":{"values":[{}]},"mark":{"type":"text","align":"left","baseline":"middle","fontSize":12,"text":"P7"},"encoding":{"x":{"datum":28,"axis":null},"y":{"datum":4.43,"axis":null}}},
  {"data":{"values":[{}]},"mark":{"type":"text","align":"left","baseline":"top","fontSize":14.3,"lineHeight":17,"text":["Non-Canadian Brock","(out/in-group)"]},"encoding":{"x":{"datum":151,"axis":null},"y":{"datum":4.69,"axis":null}}}
 ]},
 {"width":241,"height":148.5,"resolve":{"axis":{"x":"independent","y":"independent"}},"layer":[
  {"data":{"name":"C8"},"transform":[{"fold":["a","b","c","d"],"as":["s","v"]}],"mark":{"type":"line","strokeWidth":1.8,"interpolate":"monotone"},
   "encoding":{"x":{"field":"t","type":"quantitative","scale":{"domain":[-200,500],"nice":false,"zero":false},"axis":null},
    "y":{"field":"v","type":"quantitative","scale":{"domain":[-5.125,5],"nice":false,"zero":false},"axis":{"orient":"left","offset":-68.86,"values":[-4,-3,-2,-1,0,1,2,3,4,5],"domain":false,"title":null,"labelExpr":"''+datum.value"}},
    "color":{"field":"s","type":"nominal","scale":{"domain":["a","b","c","d"],"range":["#8c8c8c","#a8a8a8","#000000","#000000"]},"legend":{"title":null,"labelExpr":"{'a':'Upright (before social category learning)','b':'Inverted (before social category learning)','c':'Upright (after social category learning)','d':'Inverted (after social category learning)'}[datum.label]"}},
    "strokeDash":{"field":"s","type":"nominal","scale":{"domain":["a","b","c","d"],"range":[[1,0],[3,2],[1,0],[3,2]]},"legend":{"title":null,"labelExpr":"{'a':'Upright (before social category learning)','b':'Inverted (before social category learning)','c':'Upright (after social category learning)','d':'Inverted (after social category learning)'}[datum.label]"}}}},
  {"data":{"values":[{}]},"mark":{"type":"rule","color":"#222","strokeWidth":1},"encoding":{"x":{"datum":0,"axis":null},"y":{"datum":-4,"axis":null},"y2":{"datum":5}}},
  {"data":{"values":[{}]},"mark":{"type":"text","align":"left","baseline":"middle","fontSize":12,"text":"P8"},"encoding":{"x":{"datum":28,"axis":null},"y":{"datum":4.43,"axis":null}}},
  {"data":{"values":[{}]},"mark":{"type":"rule","strokeWidth":1.8,"color":"#111"},"encoding":{"x":{"datum":322,"axis":null},"y":{"datum":-3.95,"axis":null},"x2":{"datum":220},"y2":{"datum":-2.93}}},
  {"data":{"values":[{}]},"mark":{"type":"point","shape":"M 1.3 -0.6 L 0 0 L 1.3 0.6","filled":false,"stroke":"#111","strokeWidth":1.8,"size":120,"angle":23,"opacity":1},"encoding":{"x":{"datum":220,"axis":null},"y":{"datum":-2.93,"axis":null}}},
  {"data":{"values":[{}]},"mark":{"type":"text","align":"left","baseline":"middle","fontSize":14.5,"text":"N170"},"encoding":{"x":{"datum":340,"axis":null},"y":{"datum":-4.41,"axis":null}}}
 ]},
 {"width":255,"height":148.5,"resolve":{"axis":{"x":"independent","y":"independent"}},"layer":[
  {"data":{"name":"H8"},"transform":[{"fold":["a","b","c","d"],"as":["s","v"]}],"mark":{"type":"line","strokeWidth":1.8,"interpolate":"monotone"},
   "encoding":{"x":{"field":"t","type":"quantitative","scale":{"domain":[-240.66,500],"nice":false,"zero":false},"axis":null},
    "y":{"field":"v","type":"quantitative","scale":{"domain":[-4.287,5.838],"nice":false,"zero":false},"axis":{"orient":"left","offset":-82.87,"values":[-4,-3,-2,-1,0,1,2,3,4,5],"domain":false,"title":null,"labelExpr":"''+datum.value"}},
    "color":{"field":"s","type":"nominal","scale":{"domain":["a","b","c","d"],"range":["#8c8c8c","#a8a8a8","#000000","#000000"]},"legend":{"title":null,"labelExpr":"{'a':'Upright (before social category learning)','b':'Inverted (before social category learning)','c':'Upright (after social category learning)','d':'Inverted (after social category learning)'}[datum.label]"}},
    "strokeDash":{"field":"s","type":"nominal","scale":{"domain":["a","b","c","d"],"range":[[1,0],[3,2],[1,0],[3,2]]},"legend":{"title":null,"labelExpr":"{'a':'Upright (before social category learning)','b':'Inverted (before social category learning)','c':'Upright (after social category learning)','d':'Inverted (after social category learning)'}[datum.label]"}}}},
  {"data":{"values":[{}]},"mark":{"type":"rule","color":"#222","strokeWidth":1},"encoding":{"x":{"datum":0,"axis":null},"y":{"datum":-4,"axis":null},"y2":{"datum":5}}},
  {"data":{"values":[{}]},"mark":{"type":"text","align":"left","baseline":"middle","fontSize":12,"text":"P8"},"encoding":{"x":{"datum":28,"axis":null},"y":{"datum":4.43,"axis":null}}}
 ]},
 {"width":241,"height":148.5,"resolve":{"axis":{"x":"independent","y":"independent"}},"layer":[
  {"data":{"name":"D7"},"transform":[{"fold":["a","b","c","d"],"as":["s","v"]}],"mark":{"type":"line","strokeWidth":1.8,"interpolate":"monotone"},
   "encoding":{"x":{"field":"t","type":"quantitative","scale":{"domain":[-200,500],"nice":false,"zero":false},"axis":null},
    "y":{"field":"v","type":"quantitative","scale":{"domain":[-5.125,5],"nice":false,"zero":false},"axis":{"orient":"left","offset":-68.86,"values":[-4,-3,-2,-1,0,1,2,3,4,5],"domain":false,"title":null,"labelExpr":"''+datum.value"}},
    "color":{"field":"s","type":"nominal","scale":{"domain":["a","b","c","d"],"range":["#8c8c8c","#a8a8a8","#000000","#000000"]},"legend":{"title":null,"labelExpr":"{'a':'Upright (before social category learning)','b':'Inverted (before social category learning)','c':'Upright (after social category learning)','d':'Inverted (after social category learning)'}[datum.label]"}},
    "strokeDash":{"field":"s","type":"nominal","scale":{"domain":["a","b","c","d"],"range":[[1,0],[3,2],[1,0],[3,2]]},"legend":{"title":null,"labelExpr":"{'a':'Upright (before social category learning)','b':'Inverted (before social category learning)','c':'Upright (after social category learning)','d':'Inverted (after social category learning)'}[datum.label]"}}}},
  {"data":{"values":[{}]},"mark":{"type":"rule","color":"#222","strokeWidth":1},"encoding":{"x":{"datum":0,"axis":null},"y":{"datum":-4,"axis":null},"y2":{"datum":5}}},
  {"data":{"values":[{}]},"mark":{"type":"text","align":"left","baseline":"middle","fontSize":12,"text":"P7"},"encoding":{"x":{"datum":28,"axis":null},"y":{"datum":4.43,"axis":null}}},
  {"data":{"values":[{}]},"mark":{"type":"text","align":"left","baseline":"top","fontSize":14.3,"lineHeight":17,"text":["Non-Canadian non-Brock","(double out-group)"]},"encoding":{"x":{"datum":151,"axis":null},"y":{"datum":4.69,"axis":null}}}
 ]},
 {"width":241,"height":148.5,"resolve":{"axis":{"x":"independent","y":"independent"}},"layer":[
  {"data":{"name":"D8"},"transform":[{"fold":["a","b","c","d"],"as":["s","v"]}],"mark":{"type":"line","strokeWidth":1.8,"interpolate":"monotone"},
   "encoding":{"x":{"field":"t","type":"quantitative","scale":{"domain":[-200,500],"nice":false,"zero":false},"axis":{"orient":"bottom","offset":8.7,"values":[-200,-100,0,100,200,300,400,500],"title":null,"labelFontSize":11.5,"tickSize":4,"labelExpr":"''+datum.value"}},
    "y":{"field":"v","type":"quantitative","scale":{"domain":[-5.125,5],"nice":false,"zero":false},"axis":{"orient":"left","offset":-68.86,"values":[-4,-3,-2,-1,0,1,2,3,4,5],"domain":false,"title":null,"labelExpr":"''+datum.value"}},
    "color":{"field":"s","type":"nominal","scale":{"domain":["a","b","c","d"],"range":["#8c8c8c","#a8a8a8","#000000","#000000"]},"legend":{"title":null,"labelExpr":"{'a':'Upright (before social category learning)','b':'Inverted (before social category learning)','c':'Upright (after social category learning)','d':'Inverted (after social category learning)'}[datum.label]"}},
    "strokeDash":{"field":"s","type":"nominal","scale":{"domain":["a","b","c","d"],"range":[[1,0],[3,2],[1,0],[3,2]]},"legend":{"title":null,"labelExpr":"{'a':'Upright (before social category learning)','b':'Inverted (before social category learning)','c':'Upright (after social category learning)','d':'Inverted (after social category learning)'}[datum.label]"}}}},
  {"data":{"values":[{}]},"mark":{"type":"rule","color":"#222","strokeWidth":1},"encoding":{"x":{"datum":0,"axis":null},"y":{"datum":-4,"axis":null},"y2":{"datum":5}}},
  {"data":{"values":[{}]},"mark":{"type":"text","align":"left","baseline":"middle","fontSize":12,"text":"P8"},"encoding":{"x":{"datum":28,"axis":null},"y":{"datum":4.43,"axis":null}}},
  {"data":{"values":[{}]},"mark":{"type":"rule","strokeWidth":1.8,"color":"#111"},"encoding":{"x":{"datum":327,"axis":null},"y":{"datum":-3.98,"axis":null},"x2":{"datum":215},"y2":{"datum":-2.94}}},
  {"data":{"values":[{}]},"mark":{"type":"point","shape":"M 1.3 -0.6 L 0 0 L 1.3 0.6","filled":false,"stroke":"#111","strokeWidth":1.8,"size":120,"angle":22,"opacity":1},"encoding":{"x":{"datum":215,"axis":null},"y":{"datum":-2.94,"axis":null}}},
  {"data":{"values":[{}]},"mark":{"type":"text","align":"left","baseline":"middle","fontSize":14.5,"text":"N170"},"encoding":{"x":{"datum":351,"axis":null},"y":{"datum":-4.38,"axis":null}}}
 ]}
]
}
